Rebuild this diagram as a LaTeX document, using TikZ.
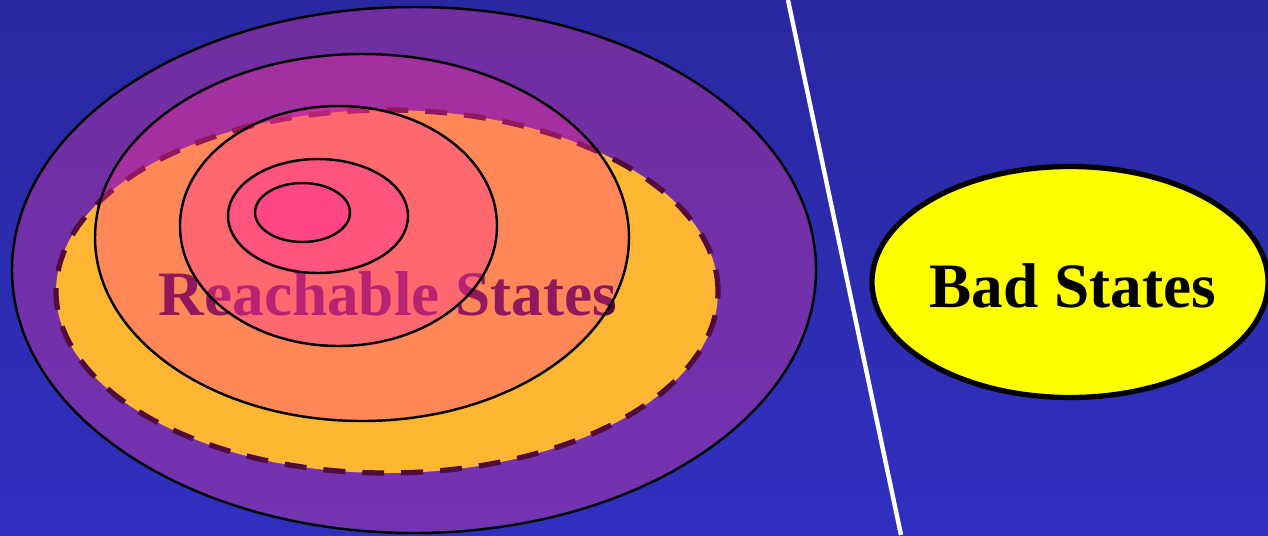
\documentclass[tikz,border=0pt]{standalone}
\usepackage{fontspec}
\setmainfont{Liberation Serif}
\usepackage{xcolor}
\usepackage{tikz}
\usetikzlibrary{shapes.geometric}

\definecolor{bgtop}{RGB}{40,40,160}
\definecolor{bgbot}{RGB}{48,48,192}
\definecolor{outerfill}{RGB}{200,55,160}
\definecolor{reachfill}{RGB}{255,183,51}
\definecolor{reachline}{RGB}{82,12,60}
\definecolor{levelfill}{RGB}{255,50,154}
\definecolor{badfill}{RGB}{255,255,0}

\begin{document}
\begin{tikzpicture}[
  x=0.02cm, y=0.02cm,
  outer/.style={draw=black, line width=1.4pt, fill=outerfill, fill opacity=0.45},
  reach/.style={draw=reachline, line width=3pt, dash pattern=on 0.44cm off 0.34cm,
                fill=reachfill},
  level/.style={draw=black, line width=1.4pt, fill=levelfill, fill opacity=0.36},
  border/.style={draw=white, line width=2.5pt},
  badset/.style={draw=black, line width=3pt, fill=badfill},
  statetext/.style={font=\bfseries\fontsize{36}{40}\selectfont, inner sep=0pt}
]
\useasboundingbox (0,0) rectangle (1268,-535);
\shade[top color=bgtop, bottom color=bgbot] (0,0) rectangle (1268,-535);
\draw[outer] (414,-270) ellipse [x radius=402, y radius=263];
\draw[reach] (387,-291.5) ellipse [x radius=331, y radius=181.5];
\node[statetext, text=reachline] (reachable) at (388,-294) {Reachable States};
\foreach \cx/\cy/\rx/\ry in {362/237.5/267/183.5, 338.5/226/158.5/120,
                             318/216/90/57, 302.5/212.5/47.5/29.5}
  \draw[level] (\cx,-\cy) ellipse [x radius=\rx, y radius=\ry];
\coordinate (cuttop) at (788,0);
\coordinate (cutbot) at (901,-535);
\draw[border] (cuttop) -- (cutbot);
\draw[badset] (1070,-282) ellipse [x radius=198, y radius=115.5];
\node[statetext] (bad) at (1073,-285.5) {Bad States};
\end{tikzpicture}
\end{document}
